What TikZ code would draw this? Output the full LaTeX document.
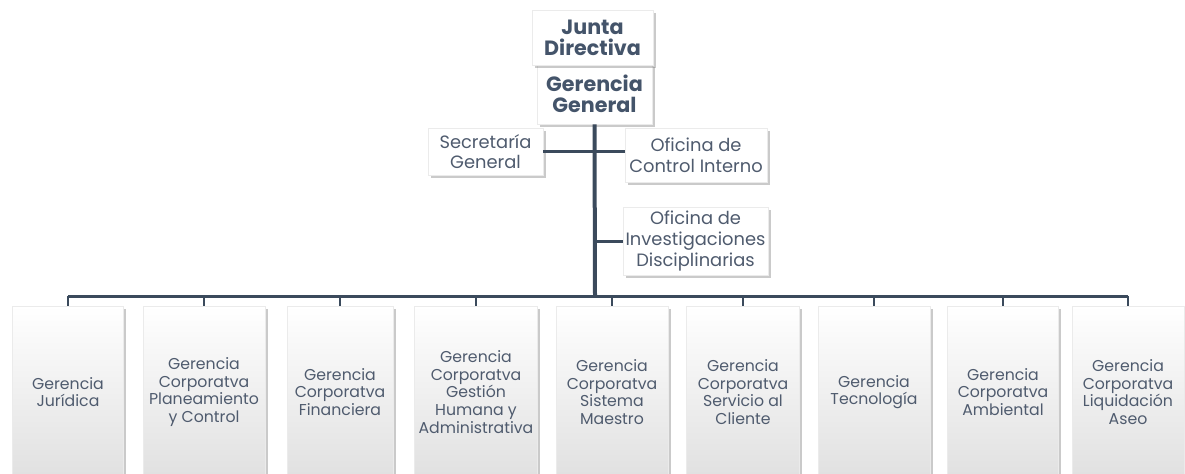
\documentclass[tikz,border=0pt]{standalone}
\usepackage{fontspec}
\setmainfont{Poppins}
\usetikzlibrary{shadows}
\definecolor{linea}{HTML}{3B4A5C}
\definecolor{texto}{HTML}{4F5B6E}
\definecolor{titulo}{HTML}{44546A}

\begin{document}
\begin{tikzpicture}[x=0.75pt, y=-0.75pt,
    caja/.style={fill=white, draw=black!8, text=texto, align=center, inner sep=1pt,
      drop shadow={shadow xshift=2pt, shadow yshift=-2pt, opacity=.35, fill=black!60}},
    cajaw/.style={minimum width=#1*0.75pt},
    cajah/.style={minimum height=#1*0.75pt},
    cabeza/.style={caja, text=titulo, font=\fontsize{15.5}{16}\selectfont\bfseries},
    oficina/.style={caja, font=\fontsize{13.4}{15.5}\selectfont},
    gerencia/.style={caja, top color=white, middle color=white, bottom color=black!12,
      cajah=172, font=\fontsize{11.8}{13.2}\selectfont},
    conector/.style={draw=linea, line width=2.25pt}]
    \useasboundingbox (0,0) rectangle (1185,474);
    % top of the chart
    \node[cabeza, cajaw=115, cajah=60] (gg) at (594.5,94) {Gerencia\\General};
    \node[cabeza, cajaw=121, cajah=55] (jd) at (592.5,37.5) {Junta\\Directiva};
    \node[oficina, cajaw=115, cajah=47] (sg) at (485.5,151.5) {Secretaría\\General};
    \node[oficina, cajaw=142, cajah=54] (ci) at (696,155) {Oficina de\\Control Interno};
    \node[oficina, cajaw=145, cajah=68] (oi) at (695.5,241) {Oficina de\\Investigaciones\\Disciplinarias};
    \coordinate (bus) at (595,296);
    % gerencias
    \foreach \i/\x/\w/\t in {1/68/111/{Gerencia\\Jurídica},
        2/204/122/{Gerencia\\Corporatva\\Planeamiento\\y Control},
        3/340/106/{Gerencia\\Corporatva\\Financiera},
        4/476/123/{Gerencia\\Corporatva\\Gestión\\Humana y\\Administrativa},
        5/612/112/{Gerencia\\Corporatva\\Sistema\\Maestro},
        6/743/113/{Gerencia\\Corporatva\\Servicio al\\Cliente},
        7/874/112/{Gerencia\\Tecnología},
        8/1003/111/{Gerencia\\Corporatva\\Ambiental},
        9/1128/112/{Gerencia\\Corporatva\\Liquidación\\Aseo}}
      \node[gerencia, cajaw=\w] (g\i) at (\x,392) {\t};
    % lines
    \draw[conector, line width=3pt] (gg.south) -- (bus);
    \draw[conector] (sg.east) -- (sg.east -| ci.west);
    \draw[conector] (oi.west) -- (oi.west -| gg.south);
    \draw[conector] (g1.north |- bus) -- (g9.north |- bus);
    \foreach \i in {1,...,9}
      \draw[conector, line width=2pt] (g\i.north |- bus) -- (g\i.north);
\end{tikzpicture}
\end{document}
